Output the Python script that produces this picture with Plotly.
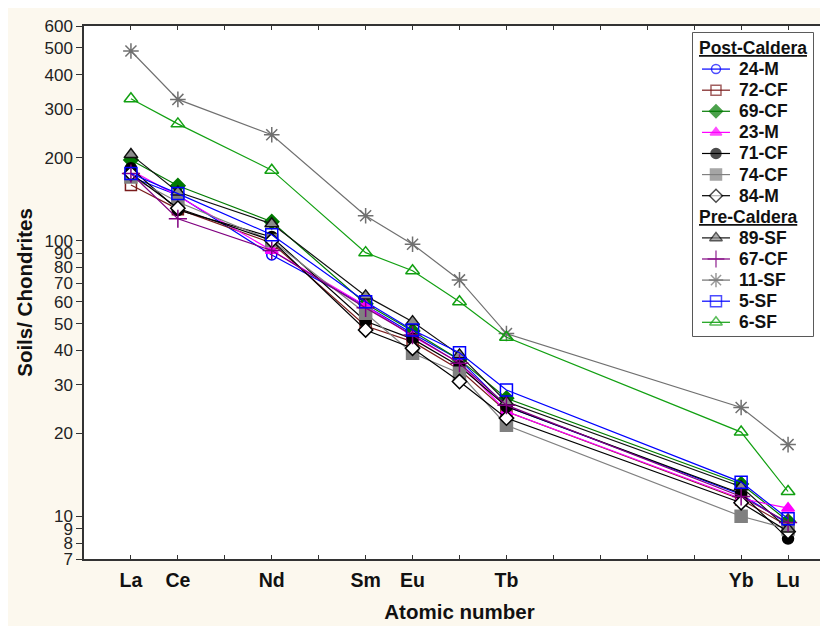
import math
import plotly.graph_objects as go

# ---- data ----
atomic_numbers = [57, 58, 60, 62, 63, 64, 65, 70, 71]
tick_positions = list(range(57, 72))
tick_names = {57: "La", 58: "Ce", 60: "Nd", 62: "Sm", 63: "Eu", 65: "Tb", 70: "Yb", 71: "Lu"}
y_ticks = [7, 8, 9, 10, 20, 30, 40, 50, 60, 70, 80, 90, 100, 200, 300, 400, 500, 600]

s_24M = [170, 146, 88.6, 58, 46, 37, 25, 12, 9.4]
s_72CF = [159, 130, 98, 49, 43, 34, 24, 11.5, 9.2]
s_69CF = [196, 158, 117, 59, 47, 37, 26.8, 13.1, 9.6]
s_23M = [180, 145, 92, 58, 45, 36, 24, 11.6, 10.7]
s_71CF = [183, 129, 103, 51, 44, 35, 25, 12.1, 8.3]
s_74CF = [170, 138, 100, 54.5, 39, 33, 21.4, 10.0, 9.0]
s_84M = [175, 131, 100, 47.4, 40.7, 30.8, 22.7, 11.2, 8.8]
s_89SF = [205, 150, 115, 63, 50.8, 38.5, 26, 12.8, 9.0]
s_67CF = [175, 120, 92, 57, 45.4, 35.9, 25.3, 11.8, 9.5]
s_11SF = [487, 325, 242, 123, 97, 72, 46, 24.8, 18.2]
s_5SF = [175, 148, 105, 60, 47.4, 39.2, 28.7, 13.3, 9.8]
s_6SF = [327, 265, 180, 90.4, 77.7, 60, 44.6, 20.2, 12.3]

groups = ["Post-Caldera", "Pre-Caldera"]
series = [
    ("24-M", s_24M, 0, "#0000ff", "circle-open", "#0000ff", "#0000ff", 10),
    ("72-CF", s_72CF, 0, "#7a1c1c", "square-open", "#7a1c1c", "#7a1c1c", 11),
    ("69-CF", s_69CF, 0, "#007a00", "diamond", "#007a00", "#007a00", 11),
    ("23-M", s_23M, 0, "#ff00ff", "triangle-up", "#ff00ff", "#ff00ff", 11),
    ("71-CF", s_71CF, 0, "#000000", "circle", "#000000", "#000000", 11),
    ("74-CF", s_74CF, 0, "#808080", "square", "#808080", "#808080", 12),
    ("84-M", s_84M, 0, "#000000", "diamond", "#ffffff", "#000000", 11),
    ("89-SF", s_89SF, 1, "#111111", "triangle-up", "#8c8c8c", "#111111", 12),
    ("67-CF", s_67CF, 1, "#800080", "cross-thin", "#800080", "#800080", 13),
    ("11-SF", s_11SF, 1, "#707070", "asterisk", "#707070", "#707070", 13),
    ("5-SF", s_5SF, 1, "#0000ff", "square-open", "#0000ff", "#0000ff", 12),
    ("6-SF", s_6SF, 1, "#12a012", "triangle-up-open", "#12a012", "#12a012", 12),
]

FONT = "Liberation Sans"
fig = go.Figure()
for name, vals, g, lc, sym, fc, mlc, size in series:
    fig.add_trace(go.Scatter(
        x=atomic_numbers, y=vals, name=name, mode="lines+markers", showlegend=False,
        line=dict(color=lc, width=1.2),
        marker=dict(symbol=sym, size=size, color=fc, line=dict(color=mlc, width=1.5)),
        xaxis="x", yaxis="y",
    ))

# ---- custom legend (drawn in its own small subplot, in pixel-like units) ----
ROW = 21.1
legend_rows = []  # (kind, text, row_y, series index)
row_y = 15.0
prev_group = None
for i, (name, vals, g, *_rest) in enumerate(series):
    if g != prev_group:
        if prev_group is None:
            legend_rows.append(("head", groups[g], row_y, None))
        else:
            row_y += ROW
            legend_rows.append(("head", groups[g], row_y, None))
        prev_group = g
    row_y += ROW
    legend_rows.append(("item", name, row_y, i))

annotations = []
for kind, text, ry, idx in legend_rows:
    if kind == "head":
        annotations.append(dict(
            xref="x2", yref="y2", x=4, y=ry, xanchor="left", yanchor="middle",
            text="<b><u>" + text + "</u></b>", showarrow=False,
            font=dict(family=FONT, size=17.5, color="#111")))
    else:
        name, vals, g, lc, sym, fc, mlc, size = series[idx]
        fig.add_trace(go.Scatter(
            x=[9, 23, 37], y=[ry, ry, ry], mode="lines+markers", showlegend=False,
            hoverinfo="skip",
            line=dict(color=lc, width=1.2),
            marker=dict(symbol=sym, size=[0, size - 1, 0], color=fc,
                        line=dict(color=mlc, width=1.5)),
            xaxis="x2", yaxis="y2",
        ))
        annotations.append(dict(
            xref="x2", yref="y2", x=44, y=ry, xanchor="left", yanchor="middle",
            text="<b>" + name + "</b>", showarrow=False,
            font=dict(family=FONT, size=17.5, color="#111")))

cream = "#fcf8ee"
lx0, lx1, ly0, ly1 = 0.8109, 0.9707, 0.4184, 0.9869
fig.update_layout(
    width=828, height=626,
    margin=dict(l=76, r=1, t=18, b=75),
    paper_bgcolor=cream, plot_bgcolor="white",
    font=dict(family=FONT, color="#111"),
    showlegend=False,
    xaxis=dict(
        range=[56, 72], tickmode="array", tickvals=tick_positions,
        ticktext=[tick_names.get(t, "") for t in tick_positions],
        ticks="inside", ticklen=4, tickcolor="#333", tickwidth=1.2,
        showline=True, linecolor="#333", linewidth=1.5, mirror="ticks",
        showgrid=False, zeroline=False, automargin=False,
        ticklabelstandoff=3,
        tickfont=dict(family=FONT, size=19.5, color="#111", weight="bold"),
        title=dict(text="<b>Atomic number</b>", standoff=14,
                   font=dict(family=FONT, size=20.5, color="#111")),
    ),
    yaxis=dict(
        type="log", range=[math.log10(7), math.log10(600)],
        tickmode="array", tickvals=y_ticks, ticktext=[str(v) for v in y_ticks],
        ticks="outside", ticklen=6, tickcolor="#333", tickwidth=1.2,
        showline=True, linecolor="#333", linewidth=1.5, mirror=False,
        showgrid=False, zeroline=False, automargin=False,
        tickfont=dict(family=FONT, size=17, color="#222"),
        title=dict(text="<b>Soils/ Chondrites</b>", standoff=6,
                   font=dict(family=FONT, size=20.5, color="#111")),
    ),
    xaxis2=dict(domain=[lx0, lx1], range=[0, 120], anchor="y2", visible=False,
                fixedrange=True),
    yaxis2=dict(domain=[ly0, ly1], range=[303, 0], anchor="x2", visible=False,
                fixedrange=True),
    shapes=[
        dict(type="rect", xref="paper", yref="paper", x0=lx0, x1=lx1, y0=ly0, y1=ly1,
             fillcolor="white", line=dict(color="#222", width=1.5), layer="below"),
    ],
    annotations=annotations,
)

fig.write_html("out.html")
